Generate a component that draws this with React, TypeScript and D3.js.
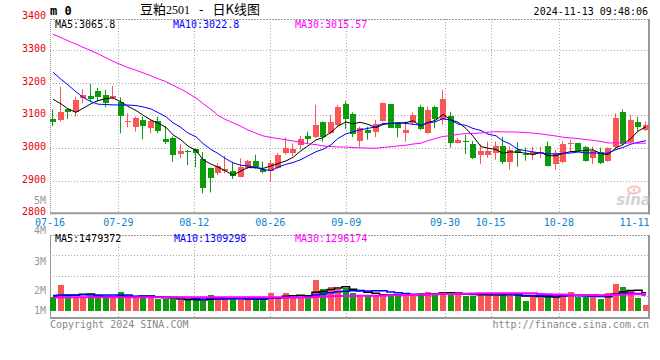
import React from "react";
import * as d3 from "d3";

const dates = [
  "07-16","07-17","07-18","07-19","07-22","07-23","07-24","07-25","07-26","07-29","07-30","07-31",
  "08-01","08-02","08-05","08-06","08-07","08-08","08-09","08-12","08-13","08-14","08-15","08-16",
  "08-19","08-20","08-21","08-22","08-23","08-26","08-27","08-28","08-29","08-30",
  "09-02","09-03","09-04","09-05","09-06","09-09","09-10","09-11","09-12","09-13",
  "09-18","09-19","09-20","09-23","09-24","09-25","09-26","09-27","09-30",
  "10-08","10-09","10-10","10-11","10-14","10-15","10-16","10-17","10-18",
  "10-21","10-22","10-23","10-24","10-25","10-28","10-29","10-30","10-31",
  "11-01","11-04","11-05","11-06","11-07","11-08","11-11","11-12","11-13",
];

const opens = [
  3089,3086,3119,3109,3154,3159,3175,3162,3154,3142,3078,3063,3086,3060,3083,3028,3032,2981,2991,2997,
  2965,2940,2922,2928,2930,2912,2938,2960,2935,2930,2938,2984,2986,3009,3037,3033,3079,3045,3070,3134,
  3103,3022,3055,3050,3084,3134,3076,3047,3076,3125,3047,3125,3086,3098,3016,3021,3012,2979,2979,2986,
  3006,2958,2994,2981,2979,2984,3006,2950,2956,3014,3014,3004,2968,2989,2961,3004,3109,3019,3081,3055,
];
const highs = [
  3118,3188,3121,3157,3180,3196,3184,3178,3190,3155,3106,3096,3096,3088,3096,3067,3035,3012,2994,2999,
  2987,2940,2953,2976,2958,2968,2963,2979,2958,2963,2984,3032,3014,3037,3050,3132,3081,3101,3132,3144,
  3109,3065,3065,3086,3139,3134,3079,3081,3109,3132,3127,3129,3178,3111,3030,3040,3021,3011,3020,3020,
  3034,3004,3017,3001,3004,3004,3020,2994,3020,3025,3016,3006,3004,3001,3002,3106,3118,3101,3096,3081,
];
const lows = [
  3067,3081,3089,3096,3137,3142,3142,3125,3149,3045,3063,3050,3027,3045,3045,3012,2958,2968,2948,2941,
  2861,2864,2917,2922,2905,2910,2936,2936,2922,2897,2936,2979,2975,2996,3012,3030,3019,3043,3067,3058,
  3033,3004,3025,3033,3081,3062,3033,3019,3070,3055,3043,3060,3070,3001,3014,2982,2966,2951,2970,2964,
  2951,2934,2943,2961,2964,2970,2943,2934,2953,2986,2986,2958,2951,2951,2958,2999,3009,3016,3052,3052,
];
const closes = [
  3081,3109,3109,3147,3162,3150,3157,3139,3159,3099,3083,3093,3068,3084,3053,3019,2977,2991,2989,2986,
  2877,2909,2946,2936,2915,2943,2960,2943,2926,2953,2979,3001,2997,3028,3028,3070,3035,3079,3124,3089,
  3042,3060,3047,3072,3137,3062,3062,3055,3101,3058,3116,3088,3150,3016,3025,3019,2970,2991,2991,3007,
  2958,2994,2984,2977,2987,2987,2946,2984,3012,3016,2991,2961,2991,2955,3001,3093,3012,3086,3065,3070,
];
// volumes in millions of lots
const volumes = [
  1.16,2.11,1.24,1.16,1.16,1.24,1.24,1.03,1.03,1.54,1.16,1.08,1.24,1.08,0.97,0.97,0.97,0.89,0.89,0.89,
  0.83,1.30,1.03,1.03,1.03,0.89,0.95,0.95,0.95,1.48,1.08,1.48,1.16,1.16,1.30,2.51,1.78,1.94,1.76,1.84,
  1.48,1.30,1.22,1.30,1.30,1.38,1.35,1.22,1.22,1.48,1.56,1.48,1.56,1.30,1.35,1.22,1.22,1.48,1.30,1.22,
  1.38,1.30,1.35,0.83,1.22,1.03,1.30,1.30,1.30,1.56,1.11,1.11,1.11,0.97,1.48,2.19,1.97,1.64,1.08,0.49,
];

// moving-average values before a full window exists
const ma5Lead = [3149, 3135, 3120, 3109];
const ma10Lead = [3232, 3210, 3193, 3172, 3155, 3142, 3134, 3133, 3132];
const ma30Lead = [
  3348,3338,3328,3318,3308,3298,3288,3276,3265,3255,3246,3238,3230,3221,3212,3203,3192,3180,3168,3153,
  3136,3118,3100,3088,3077,3066,3055,3045,3037,
];
const vma5Lead = [1.20, 1.25, 1.28, 1.27];
const vma10Lead = [1.25, 1.28, 1.30, 1.30, 1.31, 1.30, 1.30, 1.29, 1.29];
const vma30Lead = [
  1.10,1.10,1.11,1.11,1.11,1.11,1.11,1.12,1.12,1.12,1.12,1.12,1.12,1.12,1.12,1.12,1.11,1.11,1.11,1.11,
  1.11,1.11,1.11,1.11,1.11,1.11,1.11,1.11,1.11,
];

const xTickLabels = ["07-16", "07-29", "08-12", "08-26", "09-09", "09-30", "10-15", "10-28", "11-11"];
const gridDates = ["07-29", "08-12", "08-26", "09-09", "09-30", "10-15", "10-28"];
const priceTicks = [3400, 3300, 3200, 3100, 3000, 2900, 2800];
const priceGrid = [3300, 3200, 3100, 3000, 2900];
const volTickLabels = ["5M", "4M", "3M", "2M", "1M"];
const volTickValues = [5, 4, 3, 2, 1];

const titleParts = ["豆粕", "2501", "-", "日K线图"];
const stamp = "2024-11-13 09:48:06";
const priceMaLabels = ["MA5:3065.8", "MA10:3022.8", "MA30:3015.57"];
const volMaLabels = ["MA5:1479372", "MA10:1309298", "MA30:1296174"];

const RED = "#fa5656";
const GREEN = "#0a9c0a";
const MA_COLORS = ["#000000", "#0000ff", "#ff00ff"];
const MONO = "'DejaVu Sans Mono', 'Liberation Mono', monospace";
const CJK = "'Noto Sans CJK SC', sans-serif";

function movingAvg(values: number[], n: number, lead: number[]) {
  return values.map((_, i) => (i < n - 1 ? lead[i] : (d3.mean(values.slice(i - n + 1, i + 1)) as number)));
}

export default function App() {
  const W = 660, H = 360;
  const L = 50, R = 650;
  const n = closes.length;

  const xCandle = d3.scaleLinear().domain([0, n]).range([L, R]);
  const xGrid = d3.scaleLinear().domain([0, n - 1]).range([L, R]);
  const yPrice = d3.scaleLinear().domain([2800, 3400]).range([213.3, 17.3]);
  const yVol = d3.scaleLinear().domain([0, 1]).range([311, 298.65]);
  const yVolLabel = d3.scaleLinear().domain(volTickValues).range([200, 230.5, 261, 290, 310]);
  const yVolGrid = d3.scaleLinear().domain([0, 4]).range([316, 235]);

  const priceTop = 19, priceBottom = yPrice(2800);
  const volTop = yVolGrid(4), volBottom = 318;

  const ma5 = movingAvg(closes, 5, ma5Lead);
  const ma10 = movingAvg(closes, 10, ma10Lead);
  const ma30 = movingAvg(closes, 30, ma30Lead);
  const vma5 = movingAvg(volumes, 5, vma5Lead);
  const vma10 = movingAvg(volumes, 10, vma10Lead);
  const vma30 = movingAvg(volumes, 30, vma30Lead);

  const cx = (i: number) => Math.round(xCandle(i)) + 3;
  const priceLine = d3.line<number>().x((_, i) => cx(i)).y((d) => yPrice(d));
  const volLine = d3.line<number>().x((_, i) => cx(i)).y((d) => yVol(d)).curve(d3.curveStep);

  const gridX = gridDates.map((d) => Math.round(xGrid(dates.indexOf(d))) + 0.5);

  return (
    <svg width={W} height={H} style={{ position: "absolute", left: 0, top: 0, background: "#fff" }}>
      <rect x={0} y={0} width={W} height={H} fill="#fff" />
      {/* header */}
      <text x={L} y={15} fontFamily={MONO} fontWeight="bold" fontSize={12} fill="#000">m 0</text>
      <text x={140} y={14} fontFamily={CJK} fontSize={13} fill="#000">
        <tspan>{titleParts[0]}</tspan>
        <tspan fontFamily="'Liberation Serif', serif" fontSize={12}>{titleParts[1]}</tspan>
        <tspan dx={9}>{titleParts[2]}</tspan>
        <tspan dx={9}>{titleParts[3]}</tspan>
      </text>
      <text x={648} y={15} textAnchor="end" fontFamily={MONO} fontSize={10} fill="#000">{stamp}</text>

      {/* price panel grid */}
      {priceGrid.map((v) => (
        <line key={"pg" + v} x1={L} x2={R} y1={Math.round(yPrice(v)) + 0.5} y2={Math.round(yPrice(v)) + 0.5}
          stroke="#aaa" strokeDasharray="1,2" />
      ))}
      {gridX.map((x, k) => (
        <g key={"vg" + k}>
          <line x1={x} x2={x} y1={priceTop} y2={priceBottom} stroke="#aaa" strokeDasharray="1,2" />
          <line x1={x} x2={x} y1={volTop} y2={volBottom} stroke="#aaa" strokeDasharray="1,2" />
        </g>
      ))}
      <line x1={L} x2={R} y1={priceTop + 0.5} y2={priceTop + 0.5} stroke="#999" strokeDasharray="2,1" />
      <line x1={L + 0.5} x2={L + 0.5} y1={priceTop} y2={priceBottom} stroke="#999" strokeDasharray="1,1" />
      <line x1={649} x2={649} y1={priceTop} y2={priceBottom + 1} stroke="#999" strokeWidth={2} />
      <line x1={L} x2={650} y1={priceBottom} y2={priceBottom} stroke="#999" strokeWidth={2} />

      {/* price labels */}
      {priceTicks.map((v) => (
        <text key={"pl" + v} x={46} y={yPrice(v) - 1.5} textAnchor="end" dominantBaseline="central"
          fontFamily={MONO} fontSize={10} fill="#e8000a">{v}</text>
      ))}
      {volTickLabels.map((t, k) => (
        <text key={"vl" + t} x={46} y={yVolLabel(volTickValues[k])} textAnchor="end" dominantBaseline="central"
          fontFamily={MONO} fontSize={10} fill="#999">{t}</text>
      ))}

      {/* watermark */}
      <g opacity={0.55}>
        <ellipse cx={634} cy={190} rx={6} ry={3.5} fill="none" stroke="#f09090" strokeWidth={2} />
        <circle cx={634} cy={190} r={1.5} fill="#f09090" />
        <text x={651} y={205} textAnchor="end" fontFamily="'DejaVu Sans', sans-serif" fontStyle="italic"
          fontWeight="bold" fontSize={15} fill="#b0b0b0">sina</text>
      </g>

      {/* candles */}
      {closes.map((c, i) => {
        const o = opens[i];
        const up = c >= o;
        const col = up ? RED : GREEN;
        const x0 = Math.round(xCandle(i));
        const top = Math.round(yPrice(Math.max(o, c)));
        const bot = Math.round(yPrice(Math.min(o, c)));
        return (
          <g key={"c" + i}>
            <line x1={x0 + 2.5} x2={x0 + 2.5} y1={yPrice(highs[i])} y2={yPrice(lows[i])} stroke={col} />
            <rect x={x0} y={top} width={6} height={Math.max(1, bot - top)} fill={col} />
          </g>
        );
      })}

      {/* price MAs */}
      {[ma5, ma10, ma30].map((s, k) => (
        <path key={"ma" + k} d={priceLine(s) || ""} fill="none" stroke={MA_COLORS[k]} strokeWidth={1} />
      ))}
      {priceMaLabels.map((t, k) => (
        <text key={"pml" + k} x={[55, 173, 295][k]} y={24} dominantBaseline="central" fontFamily={MONO}
          fontSize={10} fill={MA_COLORS[k]}>{t}</text>
      ))}

      {/* x labels */}
      {xTickLabels.map((d) => (
        <text key={"xl" + d} x={Math.min(xGrid(dates.indexOf(d)), 634.5)} y={222} textAnchor="middle"
          dominantBaseline="central" fontFamily={MONO} fontSize={10} fill="#0a84cc">{d}</text>
      ))}

      {/* volume panel */}
      {[1, 2, 3].map((g) => (
        <line key={"vgh" + g} x1={L} x2={R} y1={Math.round(yVolGrid(g)) + 0.5} y2={Math.round(yVolGrid(g)) + 0.5}
          stroke="#aaa" strokeDasharray="1,2" />
      ))}
      <line x1={L} x2={R} y1={volTop + 0.5} y2={volTop + 0.5} stroke="#999" strokeDasharray="2,1" />
      <line x1={L + 0.5} x2={L + 0.5} y1={volTop} y2={volBottom} stroke="#999" />
      <line x1={649} x2={649} y1={volTop} y2={volBottom + 1} stroke="#999" strokeWidth={2} />
      <line x1={L} x2={650} y1={volBottom} y2={volBottom} stroke="#999" strokeWidth={2} />

      {volumes.map((v, i) => {
        const up = closes[i] >= opens[i];
        const x0 = Math.round(xCandle(i));
        const t = Math.round(yVol(v));
        return <rect key={"v" + i} x={x0} y={t} width={6} height={Math.round(yVol(0)) - t} fill={up ? RED : GREEN} />;
      })}
      {[vma5, vma10, vma30].map((s, k) => (
        <path key={"vma" + k} d={volLine(s) || ""} fill="none" stroke={MA_COLORS[k]} strokeWidth={k === 2 ? 2 : 1.5} />
      ))}
      {volMaLabels.map((t, k) => (
        <text key={"vml" + k} x={[55, 174, 295][k]} y={238} dominantBaseline="central" fontFamily={MONO}
          fontSize={10} fill={MA_COLORS[k]}>{t}</text>
      ))}

      {/* footer */}
      <text x={L} y={324} dominantBaseline="central" fontFamily={MONO} fontSize={10} fill="#888">Copyright 2024 SINA.COM</text>
      <text x={649} y={324} textAnchor="end" dominantBaseline="central" fontFamily={MONO} fontSize={10} fill="#888">http://finance.sina.com.cn</text>
    </svg>
  );
}
